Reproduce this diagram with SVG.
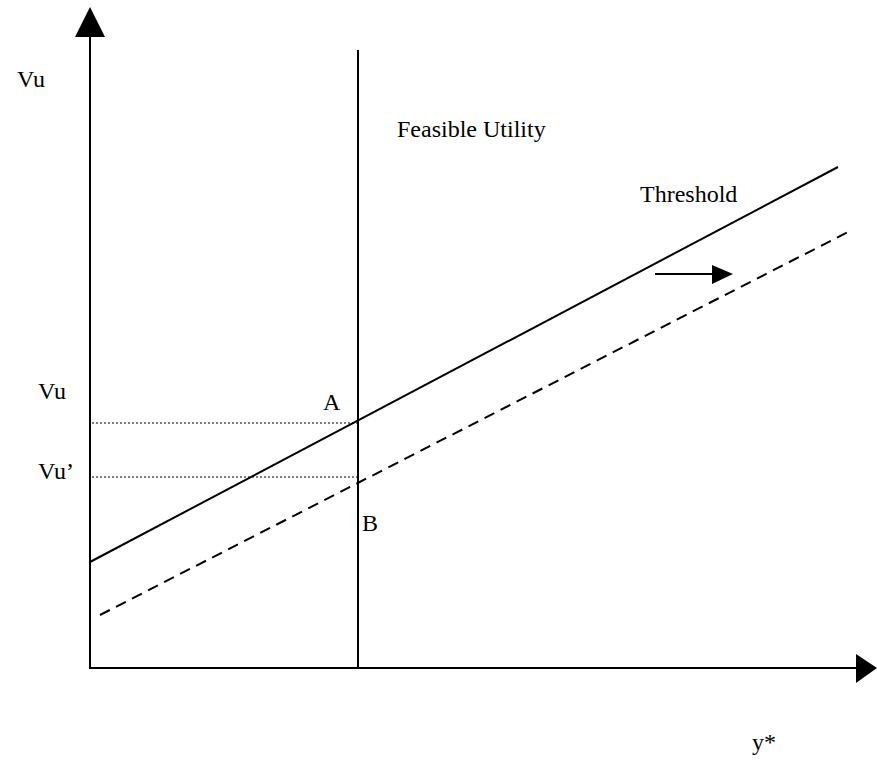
<svg xmlns="http://www.w3.org/2000/svg" width="877" height="760" viewBox="0 0 877 760">
<style>
.ln{stroke:#000;stroke-width:2;fill:none}
.dot{stroke:#000;stroke-width:1.2;stroke-dasharray:2 2;fill:none}
.dash{stroke:#000;stroke-width:2;stroke-dasharray:11 7;fill:none}
text{font-family:"Liberation Serif","Times New Roman",serif;fill:#000;font-size:24px}
</style>
<rect width="877" height="760" fill="#fff"/>
<g id="axes">
<line class="ln" x1="90" y1="36" x2="90" y2="669"/>
<polygon points="90,7 75,37 105,37" fill="#000"/>
<line class="ln" x1="89" y1="668" x2="857" y2="668"/>
<polygon points="877,668 856,654 856,683" fill="#000"/>
</g>
<g id="connectors">
<line class="ln" x1="358" y1="50" x2="358" y2="668"/>
<line class="ln" x1="90" y1="562" x2="838" y2="167"/>
<line class="dash" x1="100" y1="615" x2="848" y2="232"/>
<line class="dot" x1="92" y1="423" x2="358" y2="423"/>
<line class="dot" x1="92" y1="477" x2="358" y2="477"/>
<line class="ln" x1="655" y1="274" x2="714" y2="274"/>
<polygon points="733,274 712,265 712,284" fill="#000"/>
</g>
<g id="labels">
<text x="17" y="87">Vu</text>
<text x="397" y="137">Feasible Utility</text>
<text x="640" y="202" font-size="26">Threshold</text>
<text x="38" y="399">Vu</text>
<text x="38" y="479">Vu’</text>
<text x="323" y="410">A</text>
<text x="362" y="531">B</text>
<text x="752" y="750">y*</text>
</g>
</svg>
